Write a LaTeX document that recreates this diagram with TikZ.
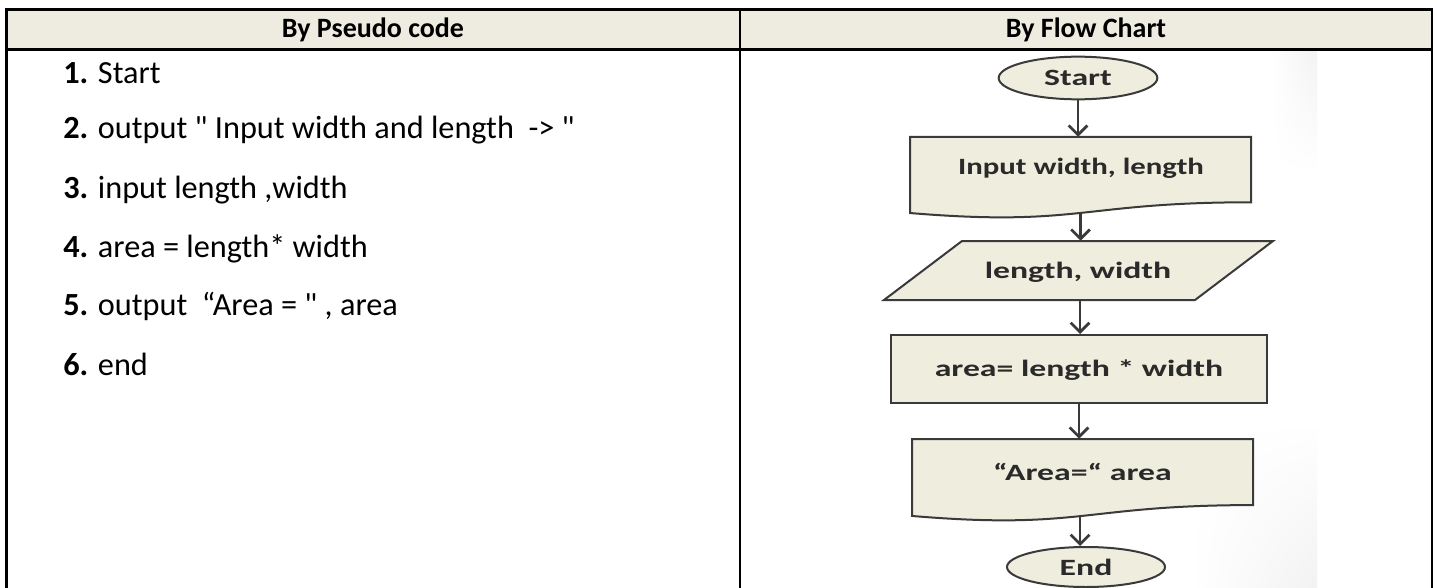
\documentclass[tikz,border=0pt]{standalone}
\usepackage{fontspec}
\usepackage{graphicx}
\setmainfont{Carlito}[Ligatures=TeXOff]
\usetikzlibrary{shapes.geometric,arrows.meta,calc,shadings}

\definecolor{hdrfill}{HTML}{EEECE1}
\definecolor{shapefill}{HTML}{EFEDDE}
\definecolor{shapeline}{HTML}{3A3A3A}
\definecolor{chartink}{HTML}{2A2A2A}

% flowchart labels are set wide
\newcommand\widetext[1]{\scalebox{1.445}[1]{#1}}
% document symbol: left x, right x, top y, height
\newcommand\docshape[4]{%
  \draw[shapeedge] (#1,#3) -- (#2,#3) -- (#2,{#3+0.802*#4})
    .. controls ({(#1+#2)/2},{#3+0.802*#4}) and ({(#1+#2)/2},{#3+1.107*#4})
    .. (#1,{#3+0.934*#4}) -- cycle;}

\tikzset{
  cell/.style={line width=1.8pt},
  head/.style={anchor=base, inner sep=0, font=\bfseries\fontsize{21}{25}\selectfont},
  body/.style={anchor=base west, inner sep=0, font=\fontsize{24.2}{28}\selectfont},
  shapeedge/.style={draw=shapeline, fill=shapefill, line width=1.5pt},
  term/.style={ellipse, shapeedge, inner sep=0, text=chartink,
    font=\bfseries\fontsize{17.5}{20}\selectfont},
  slot/.style={rectangle, inner sep=0},
  chartlabel/.style={inner sep=0, text=chartink, font=\bfseries\fontsize{17.5}{20}\selectfont},
  flow/.style={draw=shapeline, line width=2pt,
    -{Straight Barb[length=7pt,width=14pt,line width=2pt]}},
}

\begin{document}
\begin{tikzpicture}[x=0.75pt,y=-0.75pt]
\useasboundingbox (0,0) rectangle (1437,588);
\fill[white] (0,0) rectangle (1437,588);

% soft drop shadow along the right side of the chart panel
\shade[upper left=white, upper right=white, lower left=white, lower right=black!5]
  (1190,420) rectangle (1317,588);
\shade[upper left=white, upper right=black!5, lower left=white, lower right=white]
  (1270,50) rectangle (1317,175);

% table frame and header row
\fill[hdrfill] (6.5,9.5) rectangle (1432,49.5);
\draw[cell] (6.5,588) -- (6.5,9.5) -- (1432,9.5) -- (1432,588);
\draw[cell] (6.5,49.5) -- (1432,49.5);
\draw[cell] (740,9.5) -- (740,588);
\node[head] (h1) at (373,38) {By Pseudo code};
\node[head] (h2) at (1086,38) {By Flow Chart};

% pseudo code
\node[body] (p1) at (63,84)  {\textbf{1.} Start};
\node[body] (p2) at (63,139) {\textbf{2.} output " Input width and length\ \ -> "};
\node[body] (p3) at (63,198) {\textbf{3.} input length ,width};
\node[body] (p4) at (63,257) {\textbf{4.} area = length* width};
\node[body] (p5) at (63,315) {\textbf{5.} output\ \ “Area = " , area};
\node[body] (p6) at (63,375) {\textbf{6.} end};

% flow chart shapes
\node[term, minimum width=119pt, minimum height=32pt] (start) at (1078,78) {\widetext{Start}};

\docshape{910}{1251}{137}{81.4}
\node[slot, minimum width=255.75pt, minimum height=57pt] (in) at (1080.5,175) {};
\node[chartlabel] (inlbl) at (1081,168) {\scalebox{1.32}[1]{Input width, length}};

\draw[shapeedge] (962,241) -- (1273,241) -- (1195,300) -- (884,300) -- cycle;
\node[slot, minimum width=150pt, minimum height=44.25pt] (para) at (1080,270.5) {};
\node[chartlabel] (paralbl) at (1078,272) {\widetext{length, width}};

\node[rectangle, shapeedge, minimum width=282pt, minimum height=51pt, inner sep=0]
  (calc) at (1079,369) {};
\node[chartlabel] (calclbl) at (1079,370) {\widetext{area= length * width}};

\docshape{912}{1253}{439}{82.4}
\node[slot, minimum width=255.75pt, minimum height=57.75pt] (out) at (1082.5,477.5) {};
\node[chartlabel] (outlbl) at (1082.5,472) {\widetext{“Area=“ area}};

\node[term, minimum width=118.5pt, minimum height=30pt] (stop) at (1086,567) {\widetext{End}};

% connectors
\draw[flow] (start.south) -- (start.south |- in.north);
\draw[flow] (in.south) -- (in.south |- para.north);
\draw[flow] (para.south) -- (para.south |- calc.north);
\draw[flow] (calc.south) -- (calc.south |- out.north);
\draw[flow] (out.south -| 1080,0) -- (1080,0 |- stop.north);
\end{tikzpicture}
\end{document}
